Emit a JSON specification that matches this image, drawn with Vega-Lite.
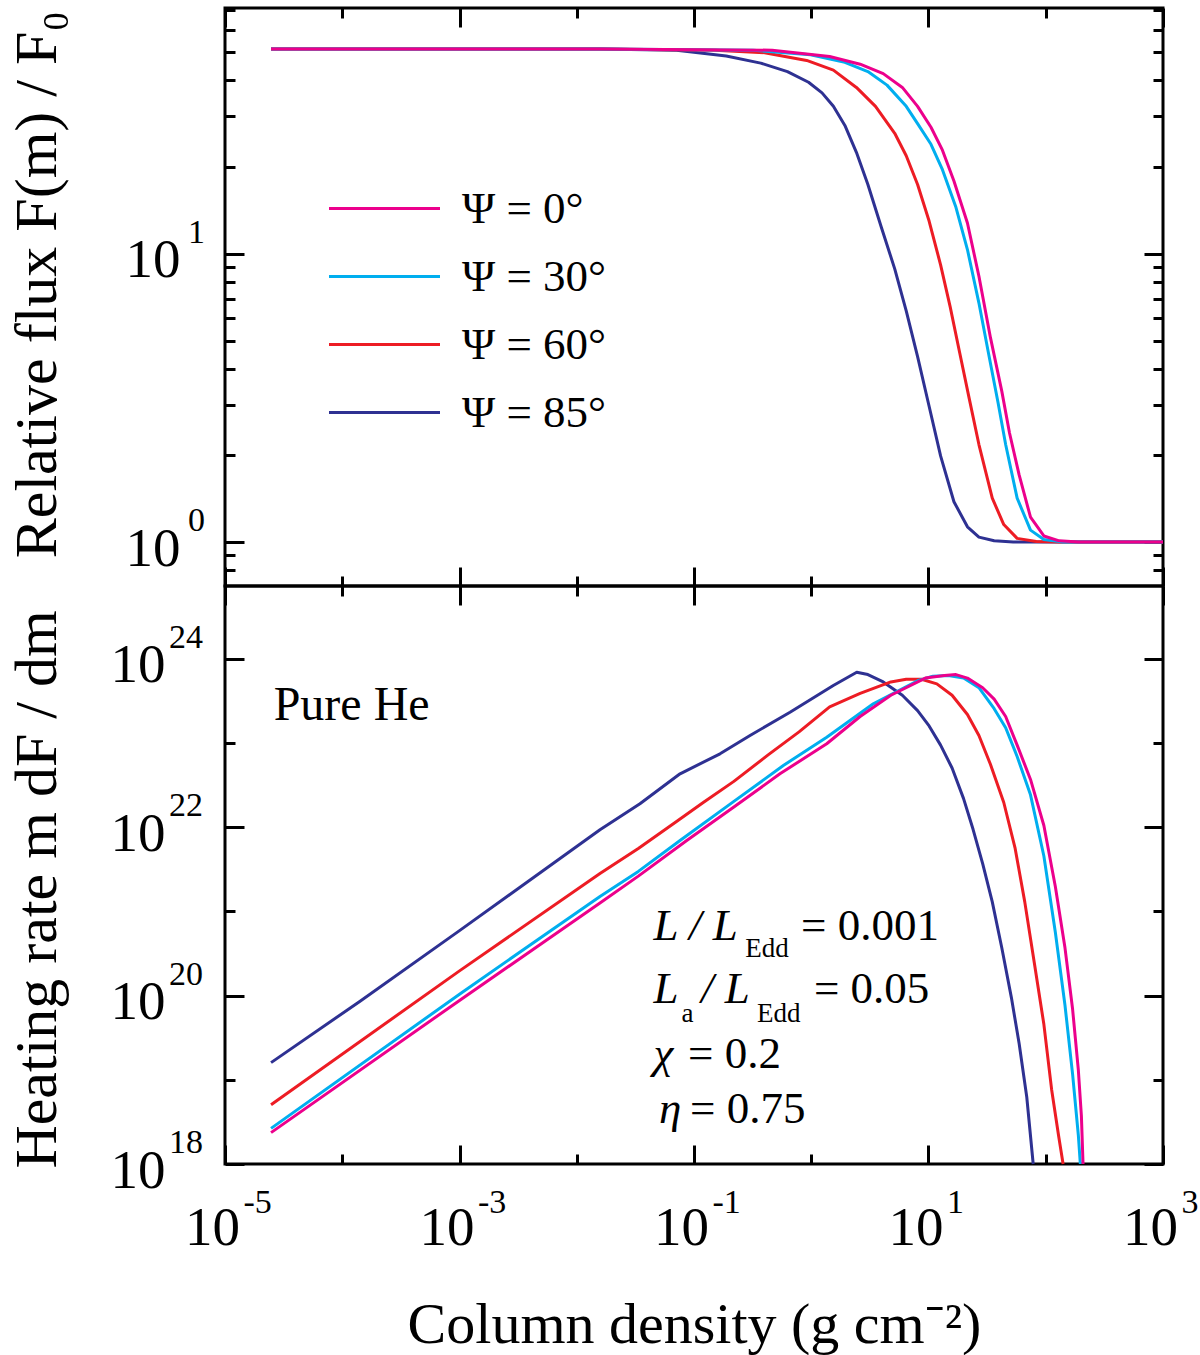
{
"$schema": "https://vega.github.io/schema/vega-lite/v6.json",
"background": "white",
"padding": {"left": 5, "top": 5, "right": 0, "bottom": 0},
"spacing": 0,
"bounds": "flush",
"datasets": {
"flux": [
{"psi":"Ψ = 85°","m":2.47e-5,"v":51.4},{"psi":"Ψ = 85°","m":0.001,"v":51.4},{"psi":"Ψ = 85°","m":0.01578,"v":51.4},{"psi":"Ψ = 85°","m":0.07096,"v":50.9},{"psi":"Ψ = 85°","m":0.1884,"v":48.6},{"psi":"Ψ = 85°","m":0.3707,"v":45.9},{"psi":"Ψ = 85°","m":0.6266,"v":42.9},{"psi":"Ψ = 85°","m":0.9484,"v":39.4},{"psi":"Ψ = 85°","m":1.236,"v":36.2},{"psi":"Ψ = 85°","m":1.545,"v":32.5},{"psi":"Ψ = 85°","m":1.936,"v":27.9},{"psi":"Ψ = 85°","m":2.427,"v":22.5},{"psi":"Ψ = 85°","m":3.041,"v":17.4},{"psi":"Ψ = 85°","m":3.954,"v":12.4},{"psi":"Ψ = 85°","m":5.152,"v":8.87},{"psi":"Ψ = 85°","m":6.457,"v":6.34},{"psi":"Ψ = 85°","m":8.072,"v":4.40},{"psi":"Ψ = 85°","m":10.12,"v":2.96},{"psi":"Ψ = 85°","m":12.68,"v":1.99},{"psi":"Ψ = 85°","m":16.48,"v":1.38},{"psi":"Ψ = 85°","m":21.48,"v":1.13},{"psi":"Ψ = 85°","m":26.92,"v":1.04},{"psi":"Ψ = 85°","m":36.31,"v":1.01},{"psi":"Ψ = 85°","m":52.84,"v":1.0},{"psi":"Ψ = 85°","m":1000,"v":1.0},
{"psi":"Ψ = 60°","m":2.47e-5,"v":51.4},{"psi":"Ψ = 60°","m":0.001,"v":51.4},{"psi":"Ψ = 60°","m":0.01578,"v":51.4},{"psi":"Ψ = 60°","m":0.1503,"v":50.9},{"psi":"Ψ = 60°","m":0.3999,"v":49.9},{"psi":"Ψ = 60°","m":0.9141,"v":46.9},{"psi":"Ψ = 60°","m":1.545,"v":43.4},{"psi":"Ψ = 60°","m":2.427,"v":37.8},{"psi":"Ψ = 60°","m":3.532,"v":32.5},{"psi":"Ψ = 60°","m":5.152,"v":26.2},{"psi":"Ψ = 60°","m":6.457,"v":21.9},{"psi":"Ψ = 60°","m":8.072,"v":17.4},{"psi":"Ψ = 60°","m":10.12,"v":13.0},{"psi":"Ψ = 60°","m":12.68,"v":9.16},{"psi":"Ψ = 60°","m":15.31,"v":6.55},{"psi":"Ψ = 60°","m":18.45,"v":4.54},{"psi":"Ψ = 60°","m":22.28,"v":3.14},{"psi":"Ψ = 60°","m":26.92,"v":2.18},{"psi":"Ψ = 60°","m":34.99,"v":1.42},{"psi":"Ψ = 60°","m":43.85,"v":1.15},{"psi":"Ψ = 60°","m":57.02,"v":1.03},{"psi":"Ψ = 60°","m":82.99,"v":1.005},{"psi":"Ψ = 60°","m":130.3,"v":1.0},{"psi":"Ψ = 60°","m":1000,"v":1.0},
{"psi":"Ψ = 30°","m":2.47e-5,"v":51.4},{"psi":"Ψ = 30°","m":0.001,"v":51.4},{"psi":"Ψ = 30°","m":0.01578,"v":51.4},{"psi":"Ψ = 30°","m":0.3192,"v":50.9},{"psi":"Ψ = 30°","m":0.9863,"v":49.1},{"psi":"Ψ = 30°","m":1.936,"v":46.2},{"psi":"Ψ = 30°","m":3.041,"v":42.9},{"psi":"Ψ = 30°","m":4.426,"v":38.5},{"psi":"Ψ = 30°","m":6.457,"v":32.5},{"psi":"Ψ = 30°","m":8.072,"v":28.3},{"psi":"Ψ = 30°","m":10.5,"v":24.0},{"psi":"Ψ = 30°","m":13.15,"v":19.6},{"psi":"Ψ = 30°","m":17.14,"v":14.5},{"psi":"Ψ = 30°","m":21.48,"v":10.35},{"psi":"Ψ = 30°","m":26.92,"v":6.75},{"psi":"Ψ = 30°","m":32.43,"v":4.54},{"psi":"Ψ = 30°","m":39.17,"v":3.05},{"psi":"Ψ = 30°","m":45.5,"v":2.18},{"psi":"Ψ = 30°","m":57.02,"v":1.42},{"psi":"Ψ = 30°","m":74.13,"v":1.10},{"psi":"Ψ = 30°","m":96.38,"v":1.02},{"psi":"Ψ = 30°","m":140.6,"v":1.0},{"psi":"Ψ = 30°","m":1000,"v":1.0},
{"psi":"Ψ = 0°","m":2.47e-5,"v":51.4},{"psi":"Ψ = 0°","m":0.001,"v":51.4},{"psi":"Ψ = 0°","m":0.01578,"v":51.4},{"psi":"Ψ = 0°","m":0.4645,"v":50.9},{"psi":"Ψ = 0°","m":1.435,"v":48.4},{"psi":"Ψ = 0°","m":2.612,"v":45.5},{"psi":"Ψ = 0°","m":4.111,"v":42.2},{"psi":"Ψ = 0°","m":5.984,"v":37.8},{"psi":"Ψ = 0°","m":8.072,"v":32.5},{"psi":"Ψ = 0°","m":10.5,"v":27.5},{"psi":"Ψ = 0°","m":13.15,"v":22.9},{"psi":"Ψ = 0°","m":16.48,"v":17.9},{"psi":"Ψ = 0°","m":21.48,"v":12.8},{"psi":"Ψ = 0°","m":26.92,"v":8.36},{"psi":"Ψ = 0°","m":33.73,"v":5.13},{"psi":"Ψ = 0°","m":42.17,"v":3.34},{"psi":"Ψ = 0°","m":49.09,"v":2.39},{"psi":"Ψ = 0°","m":59.29,"v":1.71},{"psi":"Ψ = 0°","m":74.13,"v":1.22},{"psi":"Ψ = 0°","m":96.38,"v":1.05},{"psi":"Ψ = 0°","m":130.3,"v":1.01},{"psi":"Ψ = 0°","m":189.7,"v":1.0},{"psi":"Ψ = 0°","m":1000,"v":1.0}
],
"heat": [
{"psi":"Ψ = 85°","m":2.47e-5,"v":1.60e19},{"psi":"Ψ = 85°","m":1.409e-4,"v":8.53e19},{"psi":"Ψ = 85°","m":0.001,"v":5.92e20},{"psi":"Ψ = 85°","m":0.01578,"v":9.33e21},{"psi":"Ψ = 85°","m":0.03459,"v":1.90e22},{"psi":"Ψ = 85°","m":0.07603,"v":4.32e22},{"psi":"Ψ = 85°","m":0.1667,"v":7.46e22},{"psi":"Ψ = 85°","m":0.3006,"v":1.23e23},{"psi":"Ψ = 85°","m":0.6592,"v":2.33e23},{"psi":"Ψ = 85°","m":1.542,"v":4.83e23},{"psi":"Ψ = 85°","m":2.443,"v":6.95e23},{"psi":"Ψ = 85°","m":3.041,"v":6.52e23},{"psi":"Ψ = 85°","m":4.111,"v":5.33e23},{"psi":"Ψ = 85°","m":5.984,"v":3.70e23},{"psi":"Ψ = 85°","m":8.072,"v":2.43e23},{"psi":"Ψ = 85°","m":10.12,"v":1.60e23},{"psi":"Ψ = 85°","m":12.68,"v":9.46e22},{"psi":"Ψ = 85°","m":15.89,"v":5.06e22},{"psi":"Ψ = 85°","m":19.91,"v":2.19e22},{"psi":"Ψ = 85°","m":23.99,"v":9.46e21},{"psi":"Ψ = 85°","m":28.97,"v":3.70e21},{"psi":"Ψ = 85°","m":34.99,"v":1.30e21},{"psi":"Ψ = 85°","m":42.17,"v":3.70e20},{"psi":"Ψ = 85°","m":50.93,"v":9.48e19},{"psi":"Ψ = 85°","m":59.29,"v":2.70e19},{"psi":"Ψ = 85°","m":68.87,"v":6.25e18},{"psi":"Ψ = 85°","m":78.16,"v":1e18},
{"psi":"Ψ = 60°","m":2.47e-5,"v":5.06e18},{"psi":"Ψ = 60°","m":0.001,"v":1.97e20},{"psi":"Ψ = 60°","m":0.01578,"v":2.82e21},{"psi":"Ψ = 60°","m":0.0335,"v":5.61e21},{"psi":"Ψ = 60°","m":0.07096,"v":1.17e22},{"psi":"Ψ = 60°","m":0.1199,"v":1.97e22},{"psi":"Ψ = 60°","m":0.2188,"v":3.51e22},{"psi":"Ψ = 60°","m":0.4315,"v":7.29e22},{"psi":"Ψ = 60°","m":0.787,"v":1.36e23},{"psi":"Ψ = 60°","m":1.435,"v":2.70e23},{"psi":"Ψ = 60°","m":2.612,"v":3.89e23},{"psi":"Ψ = 60°","m":4.775,"v":5.33e23},{"psi":"Ψ = 60°","m":6.457,"v":5.74e23},{"psi":"Ψ = 60°","m":8.71,"v":5.74e23},{"psi":"Ψ = 60°","m":11.78,"v":5.06e23},{"psi":"Ψ = 60°","m":15.89,"v":3.70e23},{"psi":"Ψ = 60°","m":21.48,"v":2.19e23},{"psi":"Ψ = 60°","m":26.92,"v":1.23e23},{"psi":"Ψ = 60°","m":33.73,"v":5.61e22},{"psi":"Ψ = 60°","m":43.85,"v":1.97e22},{"psi":"Ψ = 60°","m":54.83,"v":5.61e21},{"psi":"Ψ = 60°","m":66.22,"v":1.30e21},{"psi":"Ψ = 60°","m":79.98,"v":2.43e20},{"psi":"Ψ = 60°","m":96.38,"v":4.56e19},{"psi":"Ψ = 60°","m":112.2,"v":7.69e18},{"psi":"Ψ = 60°","m":128.5,"v":2.19e18},{"psi":"Ψ = 60°","m":140.6,"v":1e18},
{"psi":"Ψ = 30°","m":2.47e-5,"v":2.65e18},{"psi":"Ψ = 30°","m":0.001,"v":1.04e20},{"psi":"Ψ = 30°","m":0.01578,"v":1.51e21},{"psi":"Ψ = 30°","m":0.0335,"v":2.99e21},{"psi":"Ψ = 30°","m":0.07603,"v":6.97e21},{"psi":"Ψ = 30°","m":0.2188,"v":2.03e22},{"psi":"Ψ = 30°","m":0.5781,"v":5.42e22},{"psi":"Ψ = 30°","m":1.355,"v":1.175e23},{"psi":"Ψ = 30°","m":3.381,"v":2.93e23},{"psi":"Ψ = 30°","m":8.072,"v":5.50e23},{"psi":"Ψ = 30°","m":10.91,"v":6.24e23},{"psi":"Ψ = 30°","m":14.76,"v":6.37e23},{"psi":"Ψ = 30°","m":19.91,"v":5.92e23},{"psi":"Ψ = 30°","m":26.92,"v":4.55e23},{"psi":"Ψ = 30°","m":36.31,"v":2.56e23},{"psi":"Ψ = 30°","m":45.5,"v":1.52e23},{"psi":"Ψ = 30°","m":57.02,"v":6.93e22},{"psi":"Ψ = 30°","m":74.13,"v":2.43e22},{"psi":"Ψ = 30°","m":96.38,"v":4.56e21},{"psi":"Ψ = 30°","m":120.8,"v":5.61e20},{"psi":"Ψ = 30°","m":145.9,"v":7.69e19},{"psi":"Ψ = 30°","m":169.4,"v":1.17e19},{"psi":"Ψ = 30°","m":189.7,"v":2.19e18},{"psi":"Ψ = 30°","m":197.2,"v":1e18},
{"psi":"Ψ = 0°","m":2.47e-5,"v":2.36e18},{"psi":"Ψ = 0°","m":0.001,"v":8.77e19},{"psi":"Ψ = 0°","m":0.01578,"v":1.26e21},{"psi":"Ψ = 0°","m":0.0335,"v":2.63e21},{"psi":"Ψ = 0°","m":0.0867,"v":6.97e21},{"psi":"Ψ = 0°","m":0.2188,"v":1.74e22},{"psi":"Ψ = 0°","m":0.5408,"v":4.32e22},{"psi":"Ψ = 0°","m":1.355,"v":9.82e22},{"psi":"Ψ = 0°","m":2.612,"v":2.07e23},{"psi":"Ψ = 0°","m":4.775,"v":3.70e23},{"psi":"Ψ = 0°","m":9.397,"v":5.92e23},{"psi":"Ψ = 0°","m":13.68,"v":6.37e23},{"psi":"Ψ = 0°","m":17.14,"v":6.52e23},{"psi":"Ψ = 0°","m":21.48,"v":5.92e23},{"psi":"Ψ = 0°","m":28.97,"v":4.55e23},{"psi":"Ψ = 0°","m":36.31,"v":3.33e23},{"psi":"Ψ = 0°","m":45.5,"v":2.07e23},{"psi":"Ψ = 0°","m":57.02,"v":9.46e22},{"psi":"Ψ = 0°","m":74.13,"v":3.70e22},{"psi":"Ψ = 0°","m":96.38,"v":1.05e22},{"psi":"Ψ = 0°","m":120.8,"v":1.97e21},{"psi":"Ψ = 0°","m":145.9,"v":3.70e20},{"psi":"Ψ = 0°","m":169.4,"v":6.93e19},{"psi":"Ψ = 0°","m":189.7,"v":1.30e19},{"psi":"Ψ = 0°","m":201.4,"v":3.70e18},{"psi":"Ψ = 0°","m":208.0,"v":1e18}
],
"annot_it": [
{"x":0.0452,"y":4.56e20,"t":"L / L"},
{"x":0.0452,"y":8.07e19,"t":"L"},
{"x":0.1148,"y":8.07e19,"t":"/ L"},
{"x":0.0452,"y":1.365e19,"t":"χ"},
{"x":0.0502,"y":3.03e18,"t":"η"}
],
"annot_rm": [
{"x":0.8185,"y":4.56e20,"t":"= 0.001"},
{"x":1.054,"y":8.07e19,"t":"= 0.05"},
{"x":0.0889,"y":1.365e19,"t":"= 0.2"},
{"x":0.0925,"y":3.03e18,"t":"= 0.75"}
],
"annot_sub": [
{"x":0.2742,"y":2.844e20,"t":"Edd"},
{"x":0.0782,"y":4.81e19,"t":"a"},
{"x":0.3443,"y":4.81e19,"t":"Edd"}
],
"label_he": [
{"x":2.6e-5,"y":1.871e23,"t":"Pure He"}
]
},
"vconcat": [
{
"width": 938, "height": 578,
"layer": [
{
"data": {"name": "flux"},
"mark": {"type": "line", "strokeWidth": 3, "strokeJoin": "round"},
"encoding": {
"x": {"field": "m", "type": "quantitative", "scale": {"type": "log", "domain": [1e-5, 1000], "nice": false},
 "axis": {"orient": "bottom", "values": [1e-5, 0.001, 0.1, 10, 1000], "labels": false, "tickSize": -19, "title": null}},
"y": {"field": "v", "type": "quantitative", "scale": {"type": "log", "domain": [0.704, 71.3], "nice": false},
 "axis": {"orient": "left", "values": [1, 10], "labelExpr": "'10'", "ticks": false, "labelAlign": "right", "labelBaseline": "alphabetic", "labelOffset": 23, "labelPadding": 45, "labelFontSize": 55,
 "title": "Relative flux F(m) / F₀", "titleFontSize": 60, "titleAngle": 270, "titleBaseline": "alphabetic", "titleAlign": "center", "titleX": -170, "titleY": 276}},
"color": {"field": "psi", "type": "nominal",
 "scale": {"domain": ["Ψ = 0°", "Ψ = 30°", "Ψ = 60°", "Ψ = 85°"], "range": ["#EC008C", "#00AEEF", "#ED1C24", "#2E3192"]},
 "legend": {"orient": "none", "legendX": 130, "legendY": 171, "title": null, "symbolType": "M-2,0H2", "symbolSize": 3080, "symbolStrokeWidth": 3, "labelFont": "Liberation Serif", "labelFontSize": 45, "labelColor": "black", "labelOffset": 48, "labelLimit": 400, "rowPadding": 15, "padding": 0}}
}
},
{
"data": {"values": []},
"mark": {"type": "point", "opacity": 0},
"encoding": {
"x": {"field": "m", "type": "quantitative", "scale": {"type": "log", "domain": [1e-5, 1000], "nice": false},
 "axis": {"orient": "bottom", "values": [0.0001, 0.01, 1, 100], "labels": false, "tickSize": -10, "title": null}},
"y": {"field": "v", "type": "quantitative", "scale": {"type": "log", "domain": [0.704, 71.3], "nice": false},
 "axis": {"orient": "left", "values": [1, 10], "labelExpr": "'' + round(log(datum.value)/LN10)", "ticks": false, "labelAlign": "left", "labelBaseline": "alphabetic", "labelOffset": -11.5, "labelPadding": 37.5, "labelFontSize": 34, "title": null}}
}
},
{
"data": {"values": []},
"mark": {"type": "point", "opacity": 0},
"encoding": {
"x": {"field": "m", "type": "quantitative", "scale": {"type": "log", "domain": [1e-5, 1000], "nice": false},
 "axis": {"orient": "top", "values": [1e-5, 0.001, 0.1, 10, 1000], "labels": false, "tickSize": -19, "title": null}},
"y": {"field": "v", "type": "quantitative", "scale": {"type": "log", "domain": [0.704, 71.3], "nice": false},
 "axis": {"orient": "left", "values": [1, 10], "labels": false, "tickSize": -19, "title": null}}
}
},
{
"data": {"values": []},
"mark": {"type": "point", "opacity": 0},
"encoding": {
"x": {"field": "m", "type": "quantitative", "scale": {"type": "log", "domain": [1e-5, 1000], "nice": false},
 "axis": {"orient": "top", "values": [0.0001, 0.01, 1, 100], "labels": false, "tickSize": -10, "title": null}},
"y": {"field": "v", "type": "quantitative", "scale": {"type": "log", "domain": [0.704, 71.3], "nice": false},
 "axis": {"orient": "left", "values": [0.8, 0.9, 2, 3, 4, 5, 6, 7, 8, 9, 20, 30, 40, 50, 60, 70], "labels": false, "tickSize": -10, "title": null}}
}
},
{
"data": {"values": []},
"mark": {"type": "point", "opacity": 0},
"encoding": {
"x": {"field": "m", "type": "quantitative", "scale": {"type": "log", "domain": [1e-5, 1000], "nice": false}, "axis": null},
"y": {"field": "v", "type": "quantitative", "scale": {"type": "log", "domain": [0.704, 71.3], "nice": false},
 "axis": {"orient": "right", "values": [1, 10], "labels": false, "tickSize": -19, "title": null}}
}
},
{
"data": {"values": []},
"mark": {"type": "point", "opacity": 0},
"encoding": {
"x": {"field": "m", "type": "quantitative", "scale": {"type": "log", "domain": [1e-5, 1000], "nice": false}, "axis": null},
"y": {"field": "v", "type": "quantitative", "scale": {"type": "log", "domain": [0.704, 71.3], "nice": false},
 "axis": {"orient": "right", "values": [0.8, 0.9, 2, 3, 4, 5, 6, 7, 8, 9, 20, 30, 40, 50, 60, 70], "labels": false, "tickSize": -10, "title": null}}
}
}
],
"resolve": {"axis": {"x": "independent", "y": "independent"}}
},
{
"width": 938, "height": 578,
"layer": [
{
"data": {"name": "heat"},
"mark": {"type": "line", "strokeWidth": 3, "strokeJoin": "round"},
"encoding": {
"x": {"field": "m", "type": "quantitative", "scale": {"type": "log", "domain": [1e-5, 1000], "nice": false},
 "axis": {"orient": "bottom", "values": [1e-5, 0.001, 0.1, 10, 1000], "labelExpr": "'10'", "ticks": false, "labelAlign": "center", "labelBaseline": "alphabetic", "labelPadding": 80, "labelOffset": -13, "labelFontSize": 55,
 "title": "Column density (g cm⁻²)", "titleFontSize": 58, "titleBaseline": "alphabetic", "titleY": 178}},
"y": {"field": "v", "type": "quantitative", "scale": {"type": "log", "domain": [1e18, 7.35e24], "nice": false},
 "axis": {"orient": "left", "values": [1e18, 1e20, 1e22, 1e24], "labelExpr": "'10'", "ticks": false, "labelAlign": "right", "labelBaseline": "alphabetic", "labelOffset": 23, "labelPadding": 60, "labelFontSize": 55,
 "title": "Heating rate m dF / dm", "titleFontSize": 60, "titleAngle": 270, "titleBaseline": "alphabetic", "titleAlign": "center", "titleX": -170, "titleY": 303}},
"color": {"field": "psi", "type": "nominal",
 "scale": {"domain": ["Ψ = 0°", "Ψ = 30°", "Ψ = 60°", "Ψ = 85°"], "range": ["#EC008C", "#00AEEF", "#ED1C24", "#2E3192"]},
 "legend": null}
}
},
{
"data": {"values": []},
"mark": {"type": "point", "opacity": 0},
"encoding": {
"x": {"field": "m", "type": "quantitative", "scale": {"type": "log", "domain": [1e-5, 1000], "nice": false},
 "axis": {"orient": "bottom", "values": [1e-5, 0.001, 0.1, 10, 1000], "labelExpr": "'' + round(log(datum.value)/LN10)", "ticks": false, "labelAlign": "left", "labelBaseline": "alphabetic", "labelPadding": 48, "labelOffset": 18, "labelFontSize": 34, "title": null}},
"y": {"field": "v", "type": "quantitative", "scale": {"type": "log", "domain": [1e18, 7.35e24], "nice": false},
 "axis": {"orient": "left", "values": [1e18, 1e20, 1e22, 1e24], "labelExpr": "'' + round(log(datum.value)/LN10)", "ticks": false, "labelAlign": "left", "labelBaseline": "alphabetic", "labelOffset": -11.5, "labelPadding": 56.6, "labelFontSize": 34, "title": null}}
}
},
{
"data": {"values": []},
"mark": {"type": "point", "opacity": 0},
"encoding": {
"x": {"field": "m", "type": "quantitative", "scale": {"type": "log", "domain": [1e-5, 1000], "nice": false},
 "axis": {"orient": "bottom", "values": [1e-5, 0.001, 0.1, 10, 1000], "labels": false, "tickSize": -19, "title": null}},
"y": {"field": "v", "type": "quantitative", "scale": {"type": "log", "domain": [1e18, 7.35e24], "nice": false},
 "axis": {"orient": "left", "values": [1e18, 1e20, 1e22, 1e24], "labels": false, "tickSize": -19, "title": null}}
}
},
{
"data": {"values": []},
"mark": {"type": "point", "opacity": 0},
"encoding": {
"x": {"field": "m", "type": "quantitative", "scale": {"type": "log", "domain": [1e-5, 1000], "nice": false},
 "axis": {"orient": "bottom", "values": [0.0001, 0.01, 1, 100], "labels": false, "tickSize": -10, "title": null}},
"y": {"field": "v", "type": "quantitative", "scale": {"type": "log", "domain": [1e18, 7.35e24], "nice": false},
 "axis": {"orient": "left", "values": [1e19, 1e21, 1e23], "labels": false, "tickSize": -10, "title": null}}
}
},
{
"data": {"values": []},
"mark": {"type": "point", "opacity": 0},
"encoding": {
"x": {"field": "m", "type": "quantitative", "scale": {"type": "log", "domain": [1e-5, 1000], "nice": false},
 "axis": {"orient": "top", "values": [1e-5, 0.001, 0.1, 10, 1000], "labels": false, "tickSize": -19, "title": null}},
"y": {"field": "v", "type": "quantitative", "scale": {"type": "log", "domain": [1e18, 7.35e24], "nice": false},
 "axis": {"orient": "right", "values": [1e18, 1e20, 1e22, 1e24], "labels": false, "tickSize": -19, "title": null}}
}
},
{
"data": {"values": []},
"mark": {"type": "point", "opacity": 0},
"encoding": {
"x": {"field": "m", "type": "quantitative", "scale": {"type": "log", "domain": [1e-5, 1000], "nice": false},
 "axis": {"orient": "top", "values": [0.0001, 0.01, 1, 100], "labels": false, "tickSize": -10, "title": null}},
"y": {"field": "v", "type": "quantitative", "scale": {"type": "log", "domain": [1e18, 7.35e24], "nice": false},
 "axis": {"orient": "right", "values": [1e19, 1e21, 1e23], "labels": false, "tickSize": -10, "title": null}}
}
},
{
"data": {"name": "annot_it"},
"mark": {"type": "text", "font": "Liberation Serif", "fontSize": 45, "fontStyle": "italic", "align": "left", "baseline": "alphabetic", "color": "black"},
"encoding": {
"x": {"field": "x", "type": "quantitative", "scale": {"type": "log", "domain": [1e-5, 1000], "nice": false}, "axis": null},
"y": {"field": "y", "type": "quantitative", "scale": {"type": "log", "domain": [1e18, 7.35e24], "nice": false}, "axis": null},
"text": {"field": "t"}
}
},
{
"data": {"name": "annot_rm"},
"mark": {"type": "text", "font": "Liberation Serif", "fontSize": 45, "align": "left", "baseline": "alphabetic", "color": "black"},
"encoding": {
"x": {"field": "x", "type": "quantitative", "scale": {"type": "log", "domain": [1e-5, 1000], "nice": false}, "axis": null},
"y": {"field": "y", "type": "quantitative", "scale": {"type": "log", "domain": [1e18, 7.35e24], "nice": false}, "axis": null},
"text": {"field": "t"}
}
},
{
"data": {"name": "annot_sub"},
"mark": {"type": "text", "font": "Liberation Serif", "fontSize": 27, "align": "left", "baseline": "alphabetic", "color": "black"},
"encoding": {
"x": {"field": "x", "type": "quantitative", "scale": {"type": "log", "domain": [1e-5, 1000], "nice": false}, "axis": null},
"y": {"field": "y", "type": "quantitative", "scale": {"type": "log", "domain": [1e18, 7.35e24], "nice": false}, "axis": null},
"text": {"field": "t"}
}
},
{
"data": {"name": "label_he"},
"mark": {"type": "text", "font": "Liberation Serif", "fontSize": 48, "align": "left", "baseline": "alphabetic", "color": "black"},
"encoding": {
"x": {"field": "x", "type": "quantitative", "scale": {"type": "log", "domain": [1e-5, 1000], "nice": false}, "axis": null},
"y": {"field": "y", "type": "quantitative", "scale": {"type": "log", "domain": [1e18, 7.35e24], "nice": false}, "axis": null},
"text": {"field": "t"}
}
}
],
"resolve": {"axis": {"x": "independent", "y": "independent"}}
}
],
"resolve": {"scale": {"color": "independent"}, "legend": {"color": "independent"}},
"config": {
"view": {"stroke": "black", "strokeWidth": 3},
"axis": {"domain": false, "grid": false, "labelFont": "Liberation Serif", "titleFont": "Liberation Serif", "labelColor": "black", "titleColor": "black", "tickColor": "black", "tickWidth": 3, "titleFontWeight": "normal", "labelOverlap": false, "labelFlush": false, "labelBound": false}
}
}
